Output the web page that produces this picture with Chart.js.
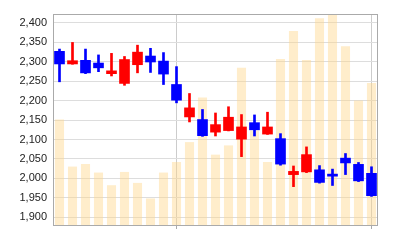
<!DOCTYPE html>
<html>
<head>
<meta charset="utf-8">
<script src="https://cdn.jsdelivr.net/npm/chart.js@4.4.0/dist/chart.umd.min.js"></script>
<style>
html,body{margin:0;padding:0;background:#fff;}
#wrap{width:400px;height:240px;}
</style>
</head>
<body>
<div id="wrap"><canvas id="c" width="400" height="240"></canvas></div>
<script>
// Daily candles (25 sessions)
const days = ['1','2','3','4','5','6','7','8','9','10','11','12','13','14','15','16','17','18','19','20','21','22','23','24','25'];
const opens  = [2327,2293,2304,2297,2268,2243,2291,2315,2302,2242,2157,2152,2118,2122,2100,2144,2113,2103,2009,2016,2023,2012,2053,2037,2014];
const highs  = [2332,2349,2332,2317,2321,2313,2342,2334,2323,2287,2218,2177,2168,2184,2164,2163,2170,2115,2032,2081,2033,2024,2064,2041,2030];
const lows   = [2248,2293,2269,2274,2263,2239,2271,2272,2241,2194,2145,2108,2109,2122,2056,2109,2113,2034,1979,2015,1988,1982,2010,1992,1954];
const closes = [2293,2303,2270,2283,2277,2306,2325,2298,2267,2200,2182,2109,2139,2158,2133,2124,2133,2036,2019,2062,1989,2005,2039,1993,1955];
const volumes = [10700,5970,6230,5370,4100,5430,4330,2770,5370,6430,8430,12900,7170,8100,15900,9600,6430,16770,19600,16670,20870,21300,18070,12600,14370];
// Month-start sessions marked with a vertical line
const monthMarks = [9, 24];
const priceMin = 1878, priceMax = 2422, priceStep = 50;
const volMax = 21300;

const UP = '#ff0000', DOWN = '#0000ff';
const candleColors = opens.map((o,i) => closes[i] >= o ? UP : DOWN);
const bodies = opens.map((o,i) => [o, closes[i]]);
const wicks = lows.map((l,i) => [l, highs[i]]);

const framePlugin = {
  id: 'frame',
  afterDraw(chart) {
    const a = chart.chartArea, ctx = chart.ctx;
    ctx.save();
    ctx.strokeStyle = '#aaaaaa';
    ctx.lineWidth = 1;
    ctx.strokeRect(Math.round(a.left) + 0.5, Math.round(a.top) + 0.5, Math.round(a.right - a.left) - 1, Math.round(a.bottom - a.top) - 1);
    ctx.restore();
  }
};

new Chart(document.getElementById('c'), {
  type: 'bar',
  data: {
    labels: days,
    datasets: [
      { label: 'wick', data: wicks, backgroundColor: candleColors, barThickness: 2, grouped: false, yAxisID: 'y', order: 1 },
      { label: 'body', data: bodies, backgroundColor: candleColors, barPercentage: 0.82, categoryPercentage: 1, grouped: false, yAxisID: 'y', order: 0 },
      { label: 'volume', data: volumes, backgroundColor: 'rgba(255,214,140,0.45)', barPercentage: 0.7, categoryPercentage: 1, grouped: false, yAxisID: 'yv', order: 5 }
    ]
  },
  options: {
    responsive: false,
    animation: false,
    layout: { padding: { top: 14, right: 22, left: 0, bottom: 0 } },
    plugins: { legend: { display: false }, tooltip: { enabled: false } },
    scales: {
      x: {
        offset: true,
        grid: {
          offset: false,
          color: c => monthMarks.includes(c.index) ? '#cccccc' : 'rgba(0,0,0,0)',
          tickColor: c => monthMarks.includes(c.index) ? '#aaaaaa' : 'rgba(0,0,0,0)',
          borderDash: [3, 3],
          tickLength: 3,
          drawTicks: true
        },
        border: { display: false },
        ticks: { display: false },
        afterFit: s => { s.height = 14; }
      },
      y: {
        position: 'left',
        min: priceMin,
        max: priceMax,
        grid: { color: '#dddddd', borderDash: [3, 3], drawTicks: false },
        border: { display: false },
        ticks: {
          stepSize: priceStep,
          includeBounds: false,
          padding: 6,
          color: '#222222',
          font: { family: 'Liberation Sans', size: 11 },
          callback: v => v.toLocaleString('en-US')
        },
        afterFit: s => { s.width = 53; }
      },
      yv: {
        display: false,
        min: 0,
        max: volMax
      }
    }
  },
  plugins: [framePlugin]
});
</script>
</body>
</html>
